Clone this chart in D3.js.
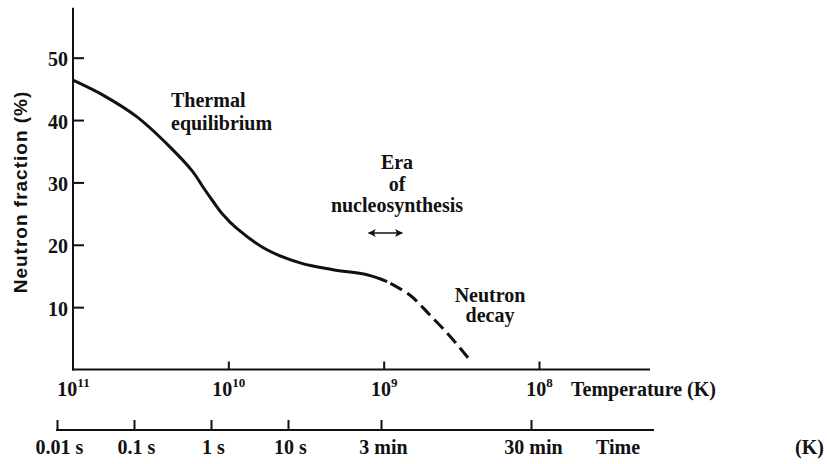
<!DOCTYPE html>
<html>
<head>
<meta charset="utf-8">
<script src="https://cdn.jsdelivr.net/npm/d3@7"></script>
<style>
  html, body { margin: 0; padding: 0; background: #fff; }
  svg { display: block; }
  .serif { font-family: "Liberation Serif", "Times New Roman", serif; font-weight: bold; fill: #111; }
  .sans { font-family: "Liberation Sans", Arial, sans-serif; font-weight: bold; fill: #111; }
</style>
</head>
<body>
<svg id="chart" width="828" height="464"></svg>
<script>
// Neutron fraction while the universe cools (temperature in K)
const equilibriumTemps  = [1e11, 6.41e10, 3.87e10, 2.38e10, 1.69e10, 1.46e10, 1.25e10, 1.08e10, 8.9e9, 5.64e9, 3.45e9, 2.12e9, 1.28e9, 9.5e8];
const equilibriumValues = [46.4, 44.0, 40.5, 35.7, 31.7, 29.3, 26.9, 24.8, 22.7, 19.2, 17.1, 16.0, 15.2, 14.1];
const decayTemps  = [9.5e8, 6.76e8, 5.02e8, 3.73e8, 2.78e8];
const decayValues = [14.1, 11.9, 8.7, 5.3, 1.5];

// Axis ticks
const fractionTicks = [10, 20, 30, 40, 50];
const tempTickExponents = [11, 10, 9, 8];
const timeTickSeconds = [0.01, 0.1, 1, 10, 180, 1800];
const timeTickLabels = ["0.01 s", "0.1 s", "1 s", "10 s", "3 min", "30 min"];

// Era of nucleosynthesis (temperature span of the arrow)
const nucleosynthesisSpan = [1.25e9, 7.6e8];

const svg = d3.select("#chart");
const ink = "#111";

const y = d3.scaleLinear().domain([0, 58]).range([369.5, 7.8]);
const x = d3.scaleLog().domain([1e11, 1e8]).range([73, 539]);
// Time axis: calibrated piecewise against the temperature axis
const t = d3.scaleLog().domain([0.01, 10, 180, 1800]).range([57, 288, 381, 531]);

const axisRight = 650;
const timeAxisY = 430;
const timeAxisRight = 654;

// --- Y axis ---
const yAxis = d3.axisLeft(y)
  .tickValues(fractionTicks)
  .tickSizeInner(-11)
  .tickSizeOuter(0)
  .tickPadding(5)
  .tickFormat(d3.format("d"));
const gy = svg.append("g").attr("transform", "translate(73,0)").call(yAxis);
gy.select(".domain").remove();
gy.selectAll(".tick line").attr("stroke", ink).attr("stroke-width", 2);
gy.selectAll(".tick text")
  .attr("class", "serif").attr("font-size", 20).attr("dy", "0.4em").attr("fill", ink);
svg.append("line")
  .attr("x1", 73).attr("x2", 73).attr("y1", y(58)).attr("y2", y(0) + 1)
  .attr("stroke", ink).attr("stroke-width", 2);

svg.append("text")
  .attr("class", "sans")
  .attr("font-size", 19)
  .attr("letter-spacing", 1)
  .attr("text-anchor", "middle")
  .attr("transform", "translate(27,192) rotate(-90)")
  .text("Neutron fraction (%)");

// --- Temperature axis ---
const xAxis = d3.axisBottom(x)
  .tickValues(tempTickExponents.map(e => Math.pow(10, e)))
  .tickSizeInner(-8)
  .tickSizeOuter(0)
  .tickPadding(0)
  .tickFormat("");
const gx = svg.append("g").attr("transform", `translate(0,${y(0)})`).call(xAxis);
gx.select(".domain").remove();
gx.selectAll(".tick line").attr("stroke", ink).attr("stroke-width", 2)
  .attr("display", (d, i) => i === 0 ? "none" : null);
gx.selectAll(".tick text").remove();
gx.selectAll(".tick").each(function (d, i) {
  const txt = d3.select(this).append("text")
    .attr("class", "serif").attr("font-size", 20).attr("y", 26)
    .attr("text-anchor", "middle");
  txt.append("tspan").text("10");
  txt.append("tspan").attr("font-size", 13).attr("dy", -9).text(tempTickExponents[i]);
});
svg.append("line")
  .attr("x1", 72).attr("x2", axisRight).attr("y1", y(0)).attr("y2", y(0))
  .attr("stroke", ink).attr("stroke-width", 2);
svg.append("text").attr("class", "serif").attr("font-size", 20)
  .attr("x", 571).attr("y", 396).text("Temperature (K)");

// --- Time axis ---
const tAxis = d3.axisBottom(t)
  .tickValues(timeTickSeconds)
  .tickSizeInner(-10)
  .tickSizeOuter(0)
  .tickPadding(0)
  .tickFormat((d, i) => timeTickLabels[i]);
const gt = svg.append("g").attr("transform", `translate(0,${timeAxisY})`).call(tAxis);
gt.select(".domain").remove();
gt.selectAll(".tick line").attr("stroke", ink).attr("stroke-width", 2);
gt.selectAll(".tick text")
  .attr("class", "serif").attr("font-size", 20).attr("fill", ink)
  .attr("y", 24).attr("dy", 0).attr("dx", 2);
svg.append("line")
  .attr("x1", t(0.01) - 1).attr("x2", timeAxisRight).attr("y1", timeAxisY).attr("y2", timeAxisY)
  .attr("stroke", ink).attr("stroke-width", 2);
svg.append("text").attr("class", "serif").attr("font-size", 20)
  .attr("x", 596).attr("y", 454).text("Time");
svg.append("text").attr("class", "serif").attr("font-size", 20)
  .attr("x", 795).attr("y", 454).text("(K)");

// --- Curves ---
const line = d3.line()
  .x(d => x(d[0]))
  .y(d => y(d[1]))
  .curve(d3.curveCatmullRom.alpha(0.5));

svg.append("path")
  .datum(equilibriumTemps.map((T, i) => [T, equilibriumValues[i]]))
  .attr("d", line)
  .attr("fill", "none").attr("stroke", ink).attr("stroke-width", 3);

svg.append("path")
  .datum(decayTemps.map((T, i) => [T, decayValues[i]]))
  .attr("d", line)
  .attr("fill", "none").attr("stroke", ink).attr("stroke-width", 3)
  .attr("stroke-dasharray", "13,6").attr("stroke-dashoffset", -4);

// --- Annotations ---
function labelBlock(lines, cx, baseline, step, anchor) {
  const g = svg.append("text").attr("class", "serif").attr("font-size", 20)
    .attr("text-anchor", anchor);
  lines.forEach((s, i) => {
    g.append("tspan").attr("x", cx).attr("y", baseline + i * step).text(s);
  });
}
labelBlock(["Thermal", "equilibrium"], 171, 107, 23, "start");
labelBlock(["Era", "of", "nucleosynthesis"], 397, 169, 21.5, "middle");
labelBlock(["Neutron", "decay"], 490, 302, 20, "middle");

// Double-headed arrow marking the nucleosynthesis era
const defs = svg.append("defs");
defs.append("marker")
  .attr("id", "head")
  .attr("viewBox", "0 0 10 10")
  .attr("refX", 9).attr("refY", 5)
  .attr("markerWidth", 5).attr("markerHeight", 5)
  .attr("markerUnits", "strokeWidth")
  .attr("orient", "auto-start-reverse")
  .append("path").attr("d", "M0,0 L10,5 L0,10 L2.5,5 Z").attr("fill", ink);
svg.append("line")
  .attr("x1", x(nucleosynthesisSpan[0])).attr("x2", x(nucleosynthesisSpan[1]))
  .attr("y1", 233).attr("y2", 233)
  .attr("stroke", ink).attr("stroke-width", 1.6)
  .attr("marker-start", "url(#head)").attr("marker-end", "url(#head)");
</script>
</body>
</html>
